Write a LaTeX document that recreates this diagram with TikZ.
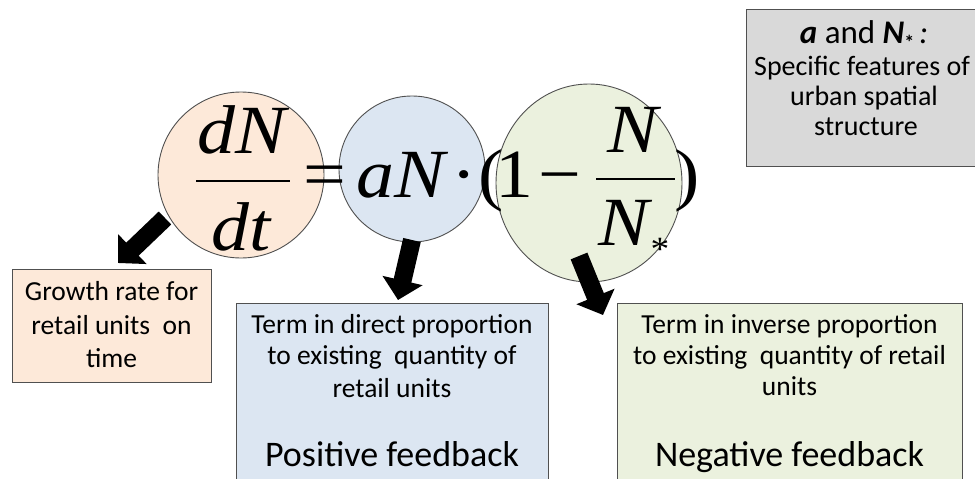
\documentclass[tikz,border=0pt]{standalone}
\usepackage{fontspec}
\setmainfont{Carlito}
\newfontfamily\eqfont[FakeStretch=1.1]{Liberation Serif}
\usetikzlibrary{arrows.meta,shapes.geometric}
\definecolor{peachfill}{HTML}{FDE9D9}
\definecolor{bluefill}{HTML}{DCE6F2}
\definecolor{greenfill}{HTML}{EBF1DE}
\definecolor{grayfill}{HTML}{D9D9D9}
\definecolor{edgegray}{HTML}{505050}
\tikzset{
  termcircle/.style={circle, draw=edgegray, line width=0.9pt, inner sep=0pt},
  infobox/.style={draw=edgegray, line width=1.3pt, inner sep=0pt, anchor=north west},
  eqtext/.style={inner sep=0pt, anchor=base, font=\eqfont\fontsize{69}{69}\selectfont},
  boxtext/.style={inner sep=0pt, anchor=base, font=\fontsize{27.5}{30}\selectfont},
  graytext/.style={inner sep=0pt, anchor=base, font=\fontsize{28}{30}\selectfont},
  bigtext/.style={inner sep=0pt, anchor=base, font=\fontsize{36}{40}\selectfont},
  fracbar/.style={line width=2.6pt},
  bigarrow/.style={line width=18pt, -{Triangle[width=40pt,length=20pt]}}
}
\begin{document}
\begin{tikzpicture}[x=1pt,y=-1pt]
\useasboundingbox (0,0) rectangle (975,479);
\fill[white] (0,0) rectangle (975,479);

% circles
\node[termcircle, fill=peachfill, minimum size=166pt] (c1) at (241,175) {};
\node[termcircle, fill=bluefill, minimum size=146pt] (c2) at (412,169) {};
\node[ellipse, draw=edgegray, line width=0.9pt, inner sep=0pt, fill=greenfill,
      minimum width=186pt, minimum height=198pt] (c3) at (589,183) {};

% equation
\node[eqtext] (dN) at (242,153) {\itshape dN};
\coordinate (b1l) at (196,181); \coordinate (b1r) at (290,181);
\draw[fracbar] (b1l) -- (b1r);
\node[eqtext] (dt) at (241,250) {\itshape dt};
\node[eqtext] (eq) at (325,197) {=};
\node[eqtext] (aN) at (401,197) {\itshape aN};
\node[eqtext] (dot) at (464,197) {·};
\node[eqtext] (lp) at (491,197) {(};
\node[eqtext] (one) at (514,197) {1};
\node[eqtext] (minus) at (560,197) {−};
\coordinate (b2l) at (596,179); \coordinate (b2r) at (675,179);
\draw[fracbar] (b2l) -- (b2r);
\node[eqtext] (Nn) at (633,152) {\itshape N};
\node[eqtext] (Nd) at (624,245) {\itshape N};
\node[inner sep=0pt, font=\eqfont\fontsize{34}{34}\selectfont] (star) at (660,249) {*};
\node[eqtext] (rp) at (687,197) {)};

% boxes
\node[infobox, fill=peachfill, minimum width=199pt, minimum height=113pt] (box1) at (12,269) {};
\node[infobox, fill=bluefill, minimum width=312pt, minimum height=190pt] (box2) at (236,303) {};
\node[infobox, fill=greenfill, minimum width=345pt, minimum height=190pt] (box3) at (617,303) {};
\node[infobox, fill=grayfill, minimum width=240pt, minimum height=157pt] (box4) at (746,9) {};

% box texts
\node[boxtext] (t11) at (111.5,300) {Growth rate for};
\node[boxtext] (t12) at (111.5,334) {retail units~ on};
\node[boxtext] (t13) at (111.5,367) {time};

\node[boxtext] (t21) at (392,333) {Term in direct proportion};
\node[boxtext] (t22) at (392,364) {to existing~ quantity of};
\node[boxtext] (t23) at (392,397) {retail units};
\node[bigtext] (t24) at (392,466) {Positive feedback};

\node[boxtext] (t31) at (789.5,333) {Term in inverse proportion};
\node[boxtext] (t32) at (789.5,364) {to existing~ quantity of retail};
\node[boxtext] (t33) at (789.5,395) {units};
\node[bigtext] (t34) at (789.5,466) {Negative feedback};

\node[inner sep=0pt, anchor=base, font=\fontsize{33}{36}\selectfont] (t41) at (864,43)
  {\textbf{\textit{a}} and \textbf{\textit{N}}\raisebox{-0.2em}{\fontsize{20}{20}\selectfont\textbf{*}}\hspace{0.15em}\textit{:}};
\node[graytext] (t42) at (862,75) {Specific features of};
\node[graytext] (t43) at (864,105) {urban spatial};
\node[graytext] (t44) at (866,135) {structure};

% arrows
\coordinate (a1s) at (165,218); \coordinate (a1e) at (118,263);
\coordinate (a2s) at (412,240); \coordinate (a2e) at (398,300);
\coordinate (a3s) at (579,256); \coordinate (a3e) at (603,315);
\draw[bigarrow] (a1s) -- (a1e);
\draw[bigarrow] (a2s) -- (a2e);
\draw[bigarrow] (a3s) -- (a3e);
\end{tikzpicture}
\end{document}
